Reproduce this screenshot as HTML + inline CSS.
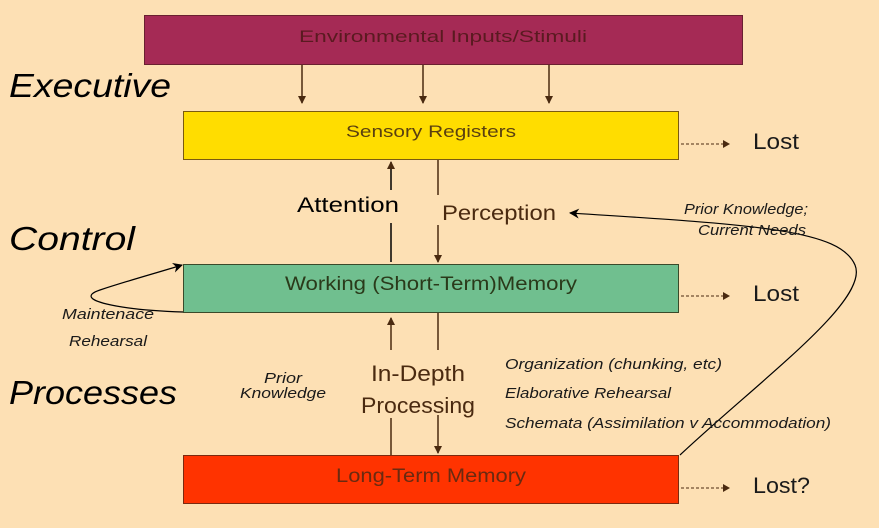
<!DOCTYPE html>
<html><head><meta charset="utf-8"><style>
html,body{margin:0;padding:0;background:#fde0b4;}
svg{display:block;}
text{font-family:"Liberation Sans",sans-serif;}
</style></head><body>
<svg width="879" height="528" viewBox="0 0 879 528" xmlns="http://www.w3.org/2000/svg">
<defs>
<marker id="a" markerWidth="8" markerHeight="8" refX="7" refY="4" orient="auto" markerUnits="userSpaceOnUse">
<path d="M0,0 L8,4 L0,8 Z" fill="#4a2a10"/></marker>
<marker id="k" markerWidth="10" markerHeight="10" refX="9" refY="5" orient="auto" markerUnits="userSpaceOnUse">
<path d="M0,0 L10,5 L0,10 L3,5 Z" fill="#000"/></marker>
</defs>
<rect width="879" height="528" fill="#fde0b4"/>
<rect x="144.5" y="15.5" width="598" height="49" fill="#a52a55" stroke="#6a2030"/>
<text x="443" y="42" font-size="17" fill="#5a1a20" text-anchor="middle" textLength="288" lengthAdjust="spacingAndGlyphs">Environmental Inputs/Stimuli</text>
<rect x="183.5" y="111.5" width="495" height="48" fill="#ffdd00" stroke="#7a5a10"/>
<text x="431" y="137" font-size="17" fill="#5a4010" text-anchor="middle" textLength="170" lengthAdjust="spacingAndGlyphs">Sensory Registers</text>
<rect x="183.5" y="264.5" width="495" height="48" fill="#70bf8f" stroke="#3a4a2a"/>
<text x="431" y="290" font-size="19" fill="#2a3a1a" text-anchor="middle" textLength="292" lengthAdjust="spacingAndGlyphs">Working (Short-Term)Memory</text>
<rect x="183.5" y="455.5" width="495" height="48" fill="#ff3300" stroke="#7a2a10"/>
<text x="431" y="482" font-size="19" fill="#6a2a10" text-anchor="middle" textLength="190" lengthAdjust="spacingAndGlyphs">Long-Term Memory</text>
<g stroke="#4a2a10" stroke-width="1.5" fill="none">
<line x1="302" y1="65" x2="302" y2="103" marker-end="url(#a)"/>
<line x1="423" y1="65" x2="423" y2="103" marker-end="url(#a)"/>
<line x1="549" y1="65" x2="549" y2="103" marker-end="url(#a)"/>
<line x1="438" y1="160" x2="438" y2="195"/>
<line x1="438" y1="225" x2="438" y2="262" marker-end="url(#a)"/>
<line x1="438" y1="313" x2="438" y2="350"/>
<line x1="438" y1="415" x2="438" y2="453" marker-end="url(#a)"/>
<line x1="391" y1="455" x2="391" y2="418"/>
<line x1="391" y1="350" x2="391" y2="318" marker-end="url(#a)"/>
</g>
<g stroke="#000" stroke-width="1.5" fill="none">
<line x1="391" y1="262" x2="391" y2="223"/>
<line x1="391" y1="190" x2="391" y2="162" marker-end="url(#a)"/>
<path d="M183,312 C120,310 70,300 100,290 C130,280 160,272 182,265" marker-end="url(#k)" stroke-width="1.2"/>
<path d="M680,455 C760,380 870,300 855,265 C840,230 760,225 570,213" marker-end="url(#k)" stroke-width="1.2"/>
</g>
<g stroke="#4a2a10" stroke-width="1" stroke-dasharray="3,2" fill="none">
<line x1="681" y1="144" x2="725" y2="144"/>
<line x1="681" y1="296" x2="725" y2="296"/>
<line x1="681" y1="488" x2="725" y2="488"/>
</g>
<g fill="#4a2a10">
<path d="M723,140 L730,144 L723,148Z"/><path d="M723,292 L730,296 L723,300Z"/><path d="M723,484 L730,488 L723,492Z"/>
</g>
<g font-size="22" fill="#1a1a1a">
<text x="753" y="149" textLength="46" lengthAdjust="spacingAndGlyphs">Lost</text>
<text x="753" y="301" textLength="46" lengthAdjust="spacingAndGlyphs">Lost</text>
<text x="753" y="493" textLength="57" lengthAdjust="spacingAndGlyphs">Lost?</text>
</g>
<g font-size="33" font-style="italic" fill="#000">
<text x="9" y="97" textLength="162" lengthAdjust="spacingAndGlyphs">Executive</text>
<text x="9" y="250" textLength="126" lengthAdjust="spacingAndGlyphs">Control</text>
<text x="9" y="404" textLength="168" lengthAdjust="spacingAndGlyphs">Processes</text>
</g>
<text x="297" y="212" font-size="21" fill="#000" textLength="102" lengthAdjust="spacingAndGlyphs">Attention</text>
<text x="442" y="220" font-size="21" fill="#4a2a10" textLength="114" lengthAdjust="spacingAndGlyphs">Perception</text>
<text x="418" y="381" font-size="22" fill="#4a2a10" text-anchor="middle" textLength="94" lengthAdjust="spacingAndGlyphs">In-Depth</text>
<text x="418" y="413" font-size="22" fill="#4a2a10" text-anchor="middle" textLength="114" lengthAdjust="spacingAndGlyphs">Processing</text>
<g font-size="15" font-style="italic" fill="#1a1a1a">
<text x="746" y="214" text-anchor="middle" textLength="124" lengthAdjust="spacingAndGlyphs">Prior Knowledge;</text>
<text x="752" y="235" text-anchor="middle" textLength="108" lengthAdjust="spacingAndGlyphs">Current Needs</text>
<text x="108" y="319" text-anchor="middle" textLength="92" lengthAdjust="spacingAndGlyphs">Maintenace</text>
<text x="108" y="346" text-anchor="middle" textLength="78" lengthAdjust="spacingAndGlyphs">Rehearsal</text>
<text x="283" y="383" text-anchor="middle" textLength="38" lengthAdjust="spacingAndGlyphs">Prior</text>
<text x="283" y="398" text-anchor="middle" textLength="86" lengthAdjust="spacingAndGlyphs">Knowledge</text>
<text x="505" y="369" textLength="217" lengthAdjust="spacingAndGlyphs">Organization (chunking, etc)</text>
<text x="505" y="398" textLength="166" lengthAdjust="spacingAndGlyphs">Elaborative Rehearsal</text>
<text x="505" y="428" textLength="326" lengthAdjust="spacingAndGlyphs">Schemata (Assimilation v Accommodation)</text>
</g>
</svg>
</body></html>
